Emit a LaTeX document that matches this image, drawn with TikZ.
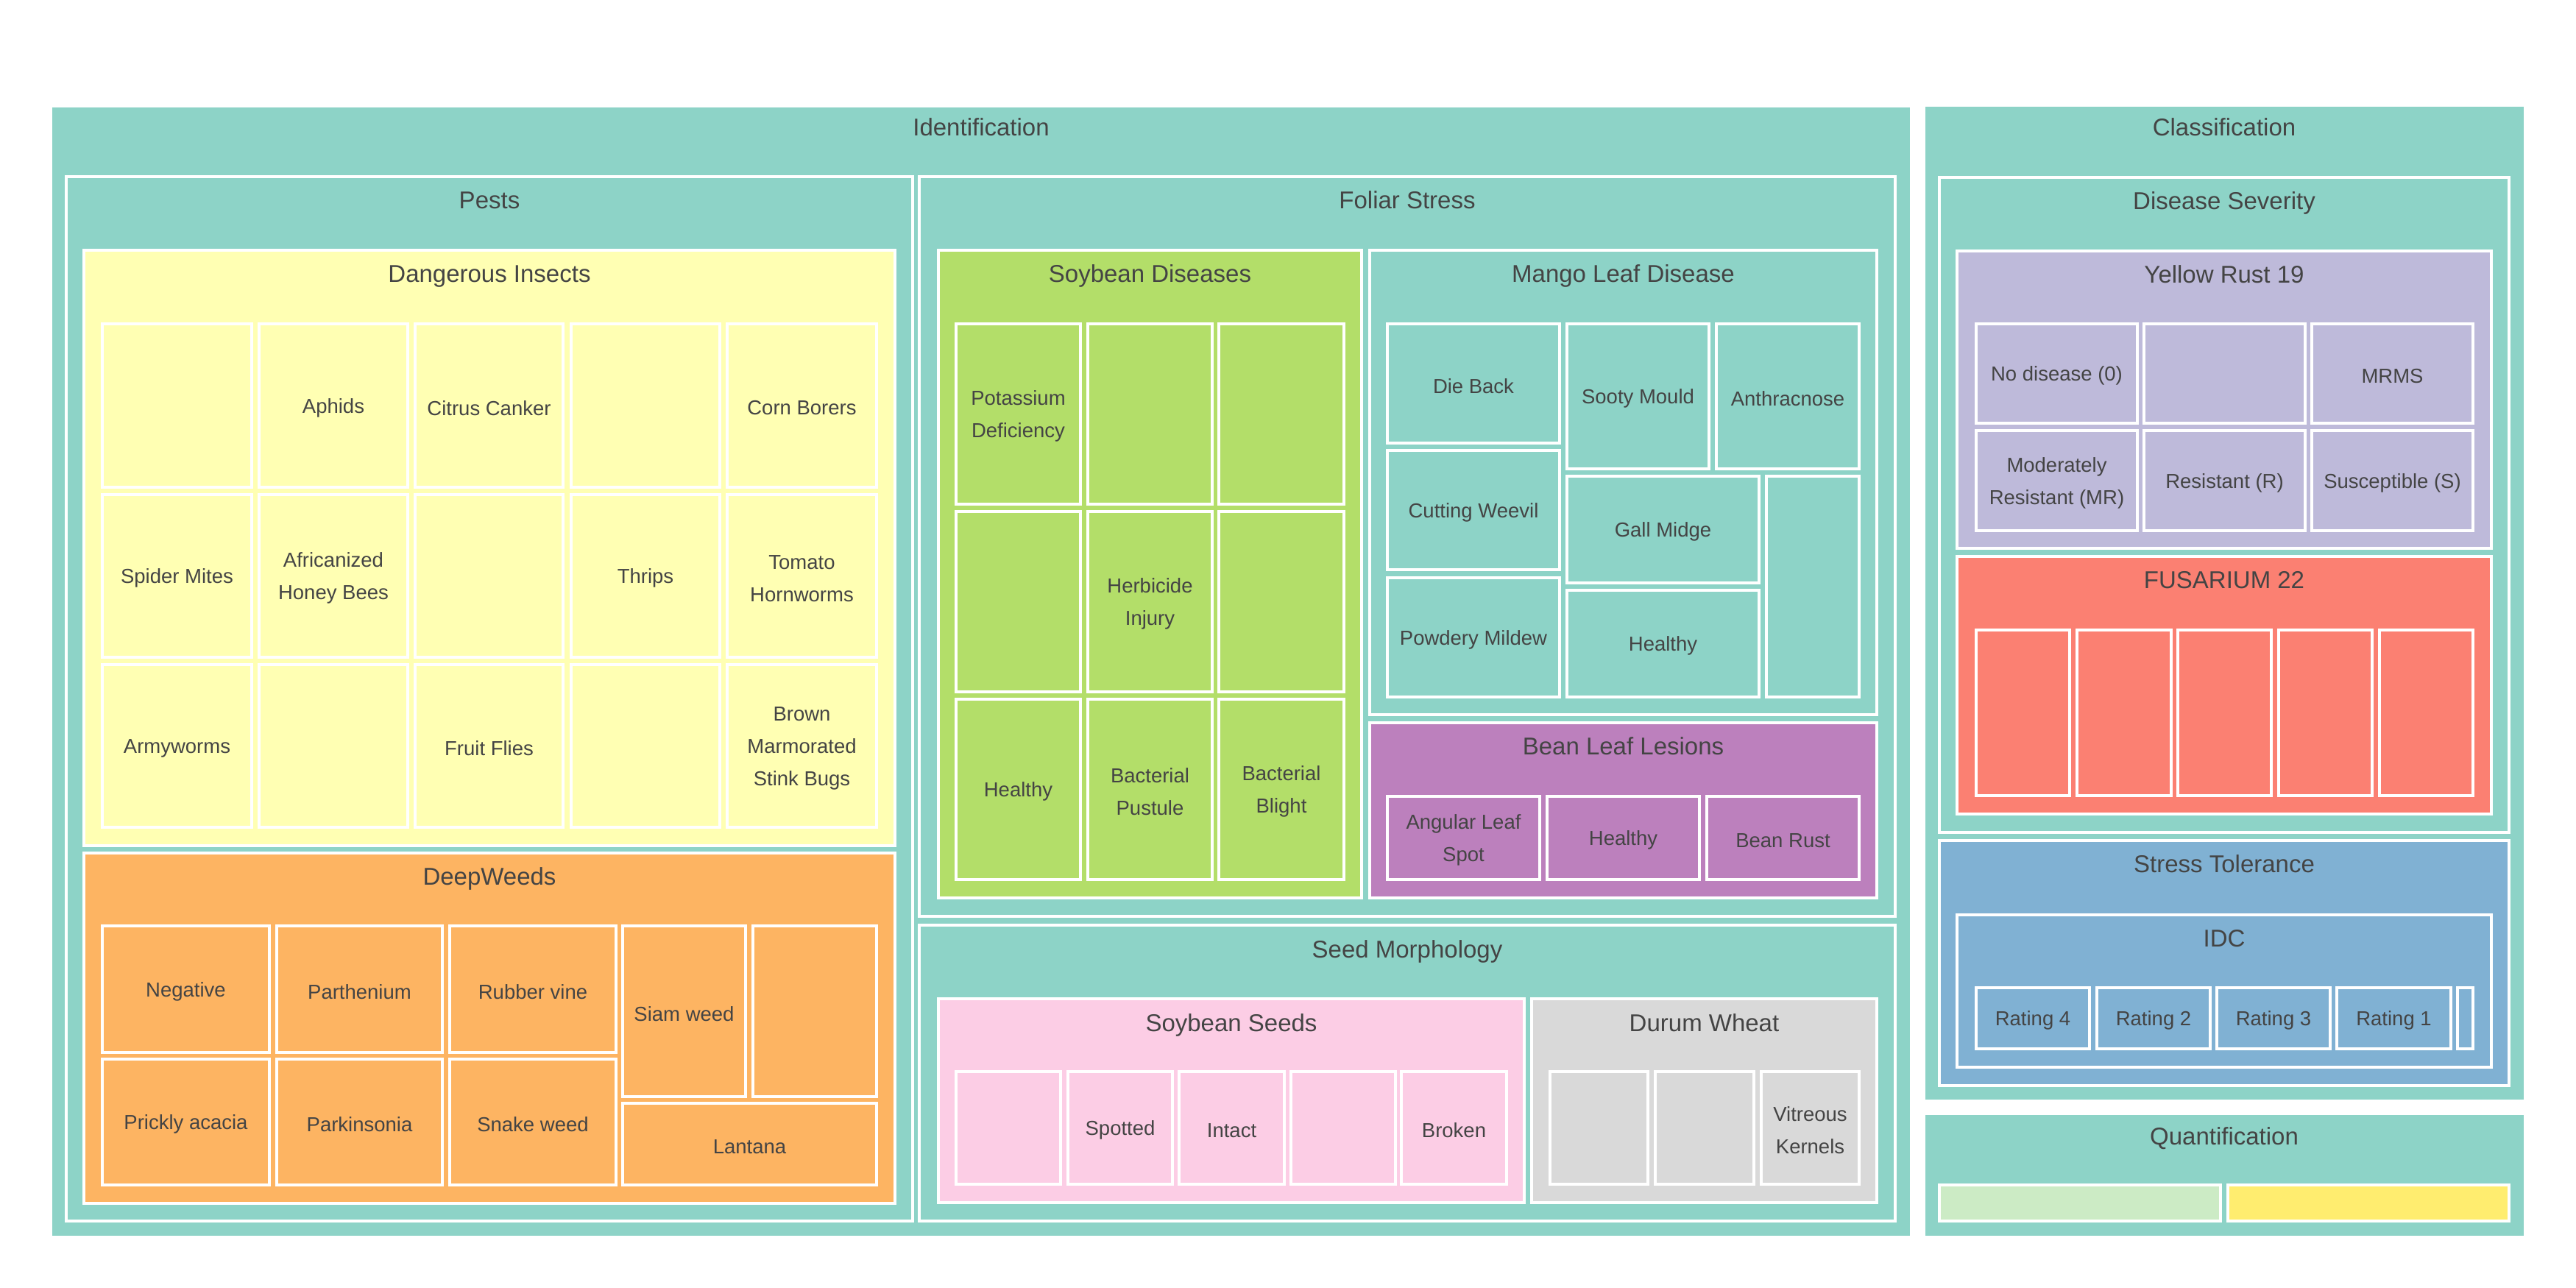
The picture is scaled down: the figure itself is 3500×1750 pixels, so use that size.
\documentclass[tikz,border=0pt]{standalone}
\usepackage{fontspec}
\setmainfont{Liberation Sans}
\definecolor{teal3}{HTML}{8DD3C7}
\definecolor{yellow3}{HTML}{FFFFB3}
\definecolor{lav3}{HTML}{BEBADA}
\definecolor{salmon3}{HTML}{FB8072}
\definecolor{blue3}{HTML}{80B1D3}
\definecolor{orange3}{HTML}{FDB462}
\definecolor{green3}{HTML}{B3DE69}
\definecolor{pink3}{HTML}{FCCDE5}
\definecolor{gray3}{HTML}{D9D9D9}
\definecolor{purple3}{HTML}{BC80BD}
\definecolor{mint3}{HTML}{CCEBC5}
\definecolor{gold3}{HTML}{FFED6F}
\definecolor{txtgray}{HTML}{444444}

\begin{document}
\begin{tikzpicture}[x=0.3pt,y=-0.3pt,
  box/.style={draw=white,line width=1.3pt},
  ttl/.style={anchor=base,text=txtgray,font=\fontsize{9.9}{12}\selectfont},
  lf/.style={align=center,text=txtgray,yshift=-1pt,font=\fontsize{8.25}{13.2}\selectfont}]
\useasboundingbox (0,0) rectangle (3500,1750);
% top level
\draw[box,fill=teal3] (69,144) rectangle (2597,1681);
\node[ttl] (ident) at (1333,185) {Identification};
\draw[box,fill=teal3] (2614,143) rectangle (3431,1496);
\node[ttl] (classif) at (3022,185) {Classification};
\draw[box,fill=teal3] (2614,1513) rectangle (3431,1681);
\node[ttl] (quant) at (3022,1555) {Quantification};
% groups, parents first
\foreach \nm/\xa/\ya/\xb/\yb/\col/\lbl in {%
  pests/90/240/1240/1659/teal3/Pests,
  foliar/1249/240/2575/1245/teal3/Foliar Stress,
  seedmorph/1249/1257/2575/1659/teal3/Seed Morphology,
  sevr/2635/241/3409/1131/teal3/Disease Severity,
  stress/2635/1142/3409/1475/blue3/Stress Tolerance,
  insects/114/340/1216/1149/yellow3/Dangerous Insects,
  weeds/114/1159/1216/1635/orange3/DeepWeeds,
  soydis/1275/340/1850/1220/green3/Soybean Diseases,
  mango/1861/340/2550/971/teal3/Mango Leaf Disease,
  bean/1861/982/2550/1220/purple3/Bean Leaf Lesions,
  soyseed/1275/1357/2071/1634/pink3/Soybean Seeds,
  durum/2081/1357/2550/1634/gray3/Durum Wheat,
  yrust/2659/341/3385/745/lav3/Yellow Rust 19,
  fusar/2659/756/3385/1106/salmon3/FUSARIUM 22,
  idc/2659/1243/3385/1450/blue3/IDC}{
  \draw[box,fill=\col] (\xa,\ya) rectangle (\xb,\yb);
  \node[ttl] (\nm) at ({(\xa+\xb)/2},\ya+44) {\lbl};
}
% leaves
\foreach \nm/\xa/\ya/\xb/\yb/\col/\lbl in {%
  ins1/139/440/342/662/yellow3/,
  ins2/352/440/554/662/yellow3/Aphids,
  ins3/564/440/765/662/yellow3/Citrus Canker,
  ins4/776/440/978/662/yellow3/,
  ins5/988/440/1191/662/yellow3/Corn Borers,
  ins6/139/672/342/893/yellow3/Spider Mites,
  ins7/352/672/554/893/yellow3/Africanized\\Honey Bees,
  ins8/564/672/765/893/yellow3/,
  ins9/776/672/978/893/yellow3/Thrips,
  ins10/988/672/1191/893/yellow3/Tomato\\Hornworms,
  ins11/139/903/342/1124/yellow3/Armyworms,
  ins12/352/903/554/1124/yellow3/,
  ins13/564/903/765/1124/yellow3/Fruit Flies,
  ins14/776/903/978/1124/yellow3/,
  ins15/988/903/1191/1124/yellow3/Brown\\Marmorated\\Stink Bugs,
  wd1/139/1258/366/1430/orange3/Negative,
  wd2/376/1258/601/1430/orange3/Parthenium,
  wd3/611/1258/837/1430/orange3/Rubber vine,
  wd4/139/1439/366/1610/orange3/Prickly acacia,
  wd5/376/1439/601/1610/orange3/Parkinsonia,
  wd6/611/1439/837/1610/orange3/Snake weed,
  wd7/846/1258/1013/1490/orange3/Siam weed,
  wd8/1023/1258/1191/1490/orange3/,
  wd9/846/1499/1191/1610/orange3/Lantana,
  sd1/1299/440/1468/685/green3/Potassium\\Deficiency,
  sd2/1478/440/1647/685/green3/,
  sd3/1656/440/1826/685/green3/,
  sd4/1299/695/1468/940/green3/,
  sd5/1478/695/1647/940/green3/Herbicide\\Injury,
  sd6/1656/695/1826/940/green3/,
  sd7/1299/950/1468/1195/green3/Healthy,
  sd8/1478/950/1647/1195/green3/Bacterial\\Pustule,
  sd9/1656/950/1826/1195/green3/Bacterial\\Blight,
  mg1/1885/440/2119/602/teal3/Die Back,
  mg2/2129/440/2322/637/teal3/Sooty Mould,
  mg3/2332/440/2526/637/teal3/Anthracnose,
  mg4/1885/612/2119/774/teal3/Cutting Weevil,
  mg5/1885/785/2119/947/teal3/Powdery Mildew,
  mg6/2129/647/2390/792/teal3/Gall Midge,
  mg7/2129/802/2390/947/teal3/Healthy,
  mg8/2400/647/2526/947/teal3/,
  bl1/1885/1082/2092/1195/purple3/Angular Leaf\\Spot,
  bl2/2102/1082/2309/1195/purple3/Healthy,
  bl3/2319/1082/2526/1195/purple3/Bean Rust,
  ss1/1299/1456/1441/1609/pink3/,
  ss2/1451/1456/1593/1609/pink3/Spotted,
  ss3/1602/1456/1745/1609/pink3/Intact,
  ss4/1754/1456/1896/1609/pink3/,
  ss5/1904/1456/2047/1609/pink3/Broken,
  dw1/2106/1456/2239/1609/gray3/,
  dw2/2249/1456/2383/1609/gray3/,
  dw3/2393/1456/2526/1609/gray3/Vitreous\\Kernels,
  yr1/2685/440/2904/575/lav3/No disease (0),
  yr2/2913/440/3132/575/lav3/,
  yr3/3141/440/3360/575/lav3/MRMS,
  yr4/2685/585/2904/721/lav3/Moderately\\Resistant (MR),
  yr5/2913/585/3132/721/lav3/Resistant (R),
  yr6/3141/585/3360/721/lav3/Susceptible (S),
  fu1/2685/856/2812/1081/salmon3/,
  fu2/2822/856/2950/1081/salmon3/,
  fu3/2959/856/3086/1081/salmon3/,
  fu4/3096/856/3223/1081/salmon3/,
  fu5/3233/856/3360/1081/salmon3/,
  rt1/2685/1342/2839/1425/blue3/Rating 4,
  rt2/2849/1342/3003/1425/blue3/Rating 2,
  rt3/3012/1342/3166/1425/blue3/Rating 3,
  rt4/3175/1342/3330/1425/blue3/Rating 1,
  rt5/3339/1342/3360/1425/blue3/,
  qa/2635/1610/3017/1659/mint3/,
  qb/3027/1610/3409/1659/gold3/}{
  \draw[box,fill=\col] (\xa,\ya) rectangle (\xb,\yb);
  \node[lf] (\nm) at ({(\xa+\xb)/2},{(\ya+\yb)/2}) {\lbl};
}
\end{tikzpicture}
\end{document}
